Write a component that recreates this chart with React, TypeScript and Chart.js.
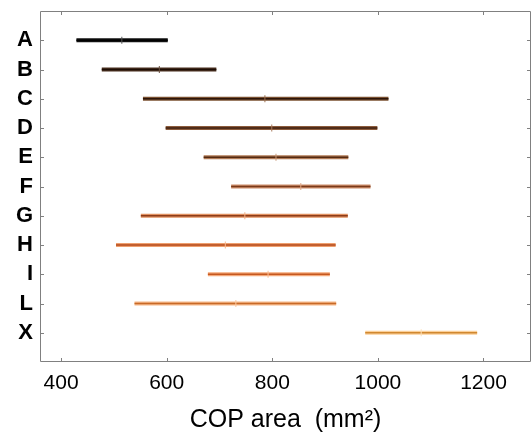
import React, { useEffect, useRef } from "react";
import { Chart, registerables } from "chart.js";

Chart.register(...registerables);

const categories = ["A", "B", "C", "D", "E", "F", "G", "H", "I", "L", "X"];
const lowValues = [429, 477, 555, 598, 670, 722, 551, 504, 678, 539, 976];
const highValues = [602, 694, 1020, 999, 944, 986, 943, 920, 909, 921, 1188];
const meanValues = [515, 586, 786, 799, 807, 854, 748, 711, 792, 731, 1082];
const xTicks = [400, 600, 800, 1000, 1200];

const innerColors = ["#000000", "#1c0c04", "#2c1408", "#3c1c0c", "#552a12", "#7a3a1a", "#8e3c18", "#b44a1a", "#c65820", "#c86a28", "#d08830"];
const outerColors = ["#111111", "#4a3020", "#7a5030", "#8c5c3c", "#b07a55", "#cc8c68", "#e09060", "#eea070", "#f4a878", "#f6b888", "#fbcf98"];
const meanColors = ["#555555", "#6a5040", "#9a7050", "#a87a5a", "#c89a78", "#e0a888", "#f0b088", "#f6b890", "#f8c098", "#fac8a0", "#fde0b8"];

const FONT = "'Liberation Sans', Arial, Helvetica, sans-serif";

const framePlugin = {
  id: "frame",
  afterDatasetsDraw(chart: any) {
    const { ctx, chartArea } = chart;
    const xs = chart.scales.x;
    const ys = chart.scales.y;
    const { left, right, top, bottom } = chartArea;
    ctx.save();
    ctx.strokeStyle = "#808080";
    ctx.lineWidth = 1;
    ctx.beginPath();
    ctx.rect(left + 0.5, top + 0.5, right - left - 1, bottom - top - 1);
    ctx.stroke();
    const tl = 4;
    ctx.beginPath();
    xTicks.forEach((v) => {
      const px = Math.round(xs.getPixelForValue(v)) + 0.5;
      ctx.moveTo(px, bottom);
      ctx.lineTo(px, bottom - tl);
      ctx.moveTo(px, top);
      ctx.lineTo(px, top + tl);
    });
    categories.forEach((_, i) => {
      const py = Math.round(ys.getPixelForValue(i + 1)) + 0.5;
      ctx.moveTo(left, py);
      ctx.lineTo(left + tl, py);
      ctx.moveTo(right, py);
      ctx.lineTo(right - tl, py);
    });
    ctx.stroke();
    ctx.restore();
  },
};

export default function App() {
  const ref = useRef<HTMLCanvasElement | null>(null);
  useEffect(() => {
    if (!ref.current) return;
    const meanData = categories.map((_, i) => ({ x: meanValues[i], y: i + 1 }));
    const datasets: any[] = [
      {
        data: meanData,
        showLine: false,
        pointStyle: "line",
        rotation: 90,
        pointRadius: 3.5,
        pointBorderWidth: 1,
        pointBorderColor: meanColors,
        pointBackgroundColor: meanColors,
        order: 0,
      },
    ];
    categories.forEach((_, i) => {
      const seg = [
        { x: lowValues[i], y: i + 1 },
        { x: highValues[i], y: i + 1 },
      ];
      datasets.push({
        data: seg,
        showLine: true,
        borderColor: innerColors[i],
        borderWidth: 1.5,
        pointRadius: 0,
        order: 1,
      });
      datasets.push({
        data: seg,
        showLine: true,
        borderColor: outerColors[i],
        borderWidth: 4,
        pointRadius: 0,
        order: 2,
      });
    });
    const chart = new Chart(ref.current, {
      type: "scatter",
      data: { datasets },
      options: {
        animation: false,
        responsive: false,
        maintainAspectRatio: false,
        layout: { autoPadding: false, padding: { top: 11, right: 0, left: 0, bottom: 0 } },
        plugins: { legend: { display: false }, tooltip: { enabled: false } },
        scales: {
          x: {
            type: "linear",
            min: 360,
            max: 1290,
            grid: { display: false, drawTicks: false },
            border: { display: false },
            afterBuildTicks: (s: any) => {
              s.ticks = xTicks.map((v) => ({ value: v }));
            },
            afterFit: (s: any) => {
              s.height = 75;
              s.paddingLeft = 0;
              s.paddingRight = 0;
            },
            ticks: {
              color: "#000",
              padding: 9,
              maxRotation: 0,
              font: { family: FONT, size: 21 },
              callback: (v: any) => String(v),
            },
            title: {
              display: true,
              text: "COP area  (mm²)",
              color: "#000",
              font: { family: FONT, size: 25 },
              padding: { top: 0, bottom: 2 },
            },
          },
          y: {
            type: "linear",
            min: 0,
            max: 12,
            reverse: true,
            grid: { display: false, drawTicks: false },
            border: { display: false },
            afterBuildTicks: (s: any) => {
              s.ticks = categories.map((_, i) => ({ value: i + 1 }));
            },
            afterFit: (s: any) => {
              s.width = 40;
              s.paddingTop = 0;
              s.paddingBottom = 0;
            },
            ticks: {
              color: "#000",
              padding: 7,
              font: { family: FONT, size: 22, weight: "bold" },
              callback: (v: any) => categories[Number(v) - 1] ?? "",
            },
          },
        },
      },
      plugins: [framePlugin],
    });
    return () => chart.destroy();
  }, []);
  return (
    <div style={{ position: "fixed", left: 0, top: 0, width: 531, height: 437, background: "#fff" }}>
      <canvas ref={ref} width={531} height={437} style={{ display: "block" }} />
    </div>
  );
}
